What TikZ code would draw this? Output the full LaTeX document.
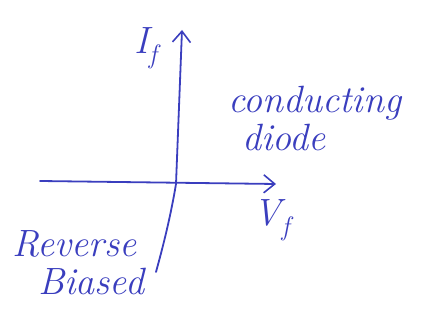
\documentclass[tikz,border=0pt]{standalone}
\usepackage{tikz}
\usepackage{xcolor}
\usetikzlibrary{arrows.meta,positioning}
\definecolor{penBlue}{RGB}{58,62,190}

\begin{document}
\begin{tikzpicture}[
  x=1pt,y=-1pt,
  every node/.style={text=penBlue,font=\fontsize{38}{42}\selectfont\itshape},
  axis/.style={draw=penBlue,line width=1.8pt,line cap=round,-{Straight Barb[length=11pt,width=18pt,line width=1.6pt]}},
  trace/.style={draw=penBlue,line width=1.8pt,line cap=round},
  lbl/.style={inner sep=0pt,align=left}
]
  \useasboundingbox (0,0) rectangle (445,320);

  \coordinate (orig) at (176,184);
  \coordinate (xstart) at (40,181);
  \coordinate (xend) at (276,184);
  \coordinate (ytop) at (182,30);
  \coordinate (rev) at (156,272);

  \draw[axis] (xstart) -- (xend);
  \draw[axis] (orig) -- (ytop);
  \draw[trace] (orig) .. controls (170,220) and (162,250) .. (rev);

  \node[lbl] (ifl) at (146,48) {I\textsubscript{f}};
  \node[lbl] (vfl) at (272,220) {V\textsubscript{f}};
  \node[lbl,anchor=north west] (cond) at (228,86) {conducting\\[-4pt]\hspace*{14pt}diode};
  \node[lbl,anchor=north west] (revb) at (12,230) {Reverse\\[-4pt]\hspace*{26pt}Biased};
\end{tikzpicture}
\end{document}
